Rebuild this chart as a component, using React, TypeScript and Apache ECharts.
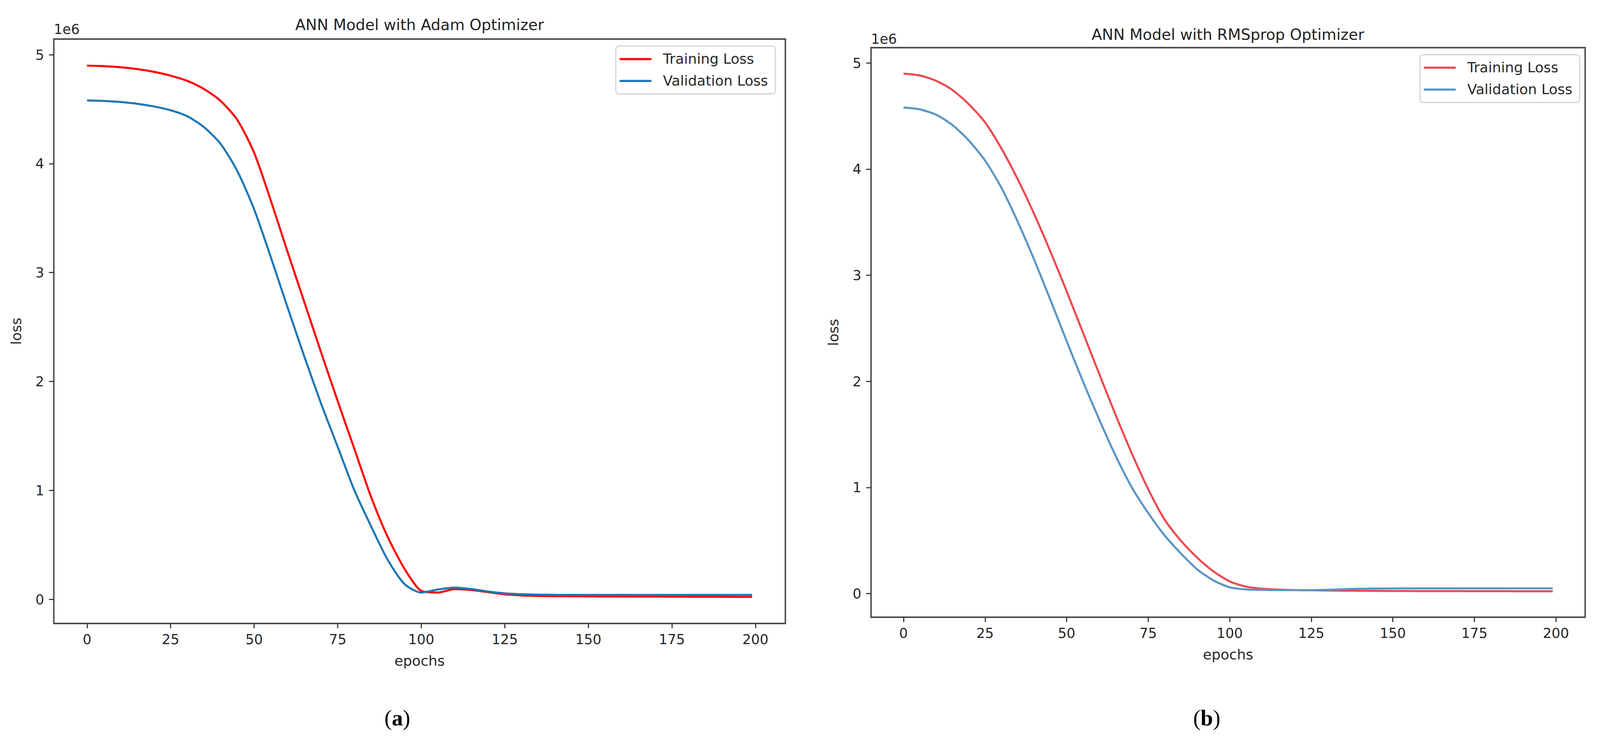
import React, { useEffect, useRef } from "react";
import * as echarts from "echarts";

const epochs = [0, 5, 10, 15, 20, 25, 30, 35, 40, 45, 50, 55, 60, 65, 70, 75, 80, 85, 90, 95, 100,
  105, 110, 115, 120, 125, 130, 135, 140, 145, 150, 155, 160, 165, 170, 175, 180, 185, 190, 195, 199];

const adamTraining = [4.9, 4.895, 4.885, 4.868, 4.843, 4.808, 4.76, 4.685, 4.575, 4.4, 4.1, 3.66, 3.19, 2.73, 2.27, 1.82, 1.38, 0.94, 0.57, 0.28, 0.078,
  0.062, 0.093, 0.085, 0.066, 0.046, 0.036, 0.031, 0.029, 0.028, 0.027, 0.026, 0.026, 0.025, 0.025, 0.024, 0.024, 0.023, 0.023, 0.022, 0.022];
const adamValidation = [4.58, 4.576, 4.566, 4.55, 4.525, 4.49, 4.435, 4.335, 4.18, 3.93, 3.58, 3.14, 2.68, 2.23, 1.8, 1.4, 1.0, 0.67, 0.36, 0.14, 0.062,
  0.09, 0.108, 0.094, 0.072, 0.055, 0.047, 0.043, 0.041, 0.04, 0.04, 0.04, 0.04, 0.04, 0.04, 0.04, 0.04, 0.04, 0.04, 0.04, 0.04];

const rmsTraining = [4.9, 4.882, 4.832, 4.745, 4.612, 4.44, 4.195, 3.905, 3.58, 3.225, 2.85, 2.46, 2.07, 1.685, 1.32, 0.985, 0.7, 0.5, 0.34, 0.21, 0.115,
  0.066, 0.046, 0.038, 0.034, 0.032, 0.03, 0.028, 0.027, 0.026, 0.025, 0.025, 0.024, 0.024, 0.024, 0.023, 0.023, 0.023, 0.022, 0.022, 0.022];
const rmsValidation = [4.58, 4.562, 4.512, 4.415, 4.27, 4.08, 3.825, 3.505, 3.15, 2.77, 2.38, 2.0, 1.64, 1.3, 1.0, 0.76, 0.55, 0.38, 0.23, 0.125, 0.06,
  0.04, 0.035, 0.033, 0.033, 0.033, 0.036, 0.042, 0.046, 0.048, 0.049, 0.05, 0.05, 0.05, 0.05, 0.05, 0.05, 0.05, 0.05, 0.05, 0.05];

const xTicks = [0, 25, 50, 75, 100, 125, 150, 175, 200];
const yTicks = [0, 1, 2, 3, 4, 5];

const titles = ["ANN Model with Adam Optimizer", "ANN Model with RMSprop Optimizer"];
const seriesNames = ["Training Loss", "Validation Loss"];
const panelLabels = ["a", "b"];

const FONT = "DejaVu Sans";
const TXT = "#262626";
const REF_W = 4313;
const REF_H = 1902;

function padRange(vals: number[]) {
  const mn = Math.min(...vals);
  const mx = Math.max(...vals);
  const p = (mx - mn) * 0.05;
  return [mn - p, mx + p];
}

export default function App() {
  const ref = useRef<HTMLDivElement>(null);

  useEffect(() => {
    if (!ref.current) return;
    const chart = echarts.init(ref.current, null, { renderer: "svg" });
    const W = chart.getWidth();
    const H = chart.getHeight();
    const sx = W / REF_W;
    const sy = H / REF_H;
    const sf = Math.min(sx, sy);
    const X = (v: number) => v * sx;
    const Y = (v: number) => v * sy;
    const F = (v: number) => v * sf;

    const [xMin, xMax] = padRange(epochs);
    const [yMinA, yMaxA] = padRange([...adamTraining, ...adamValidation]);
    const [yMinB, yMaxB] = padRange([...rmsTraining, ...rmsValidation]);

    const gridsRef = [
      { left: 145, top: 100, width: 1972, height: 1496 },
      { left: 2348, top: 122, width: 1925, height: 1458 },
    ];

    const colors = [
      ["#ff0000", "#1f77b4"],
      ["#ec4a50", "#5b95c4"],
    ];

    const tick = { show: true, length: F(13), lineStyle: { color: "#333", width: F(3) } };

    const makeX = (gi: number) => ({
      type: "value",
      gridIndex: gi,
      position: "bottom",
      min: xMin,
      max: xMax,
      axisLine: { show: false, onZero: false },
      splitLine: { show: false },
      axisTick: { ...tick, customValues: xTicks },
      axisLabel: { customValues: xTicks, fontSize: F(37), color: TXT, margin: F(24), fontFamily: FONT },
      name: "epochs",
      nameLocation: "middle",
      nameGap: F(82),
      nameTextStyle: { fontSize: F(38), color: TXT, fontFamily: FONT },
    });

    const makeY = (gi: number, mn: number, mx: number) => ({
      type: "value",
      gridIndex: gi,
      position: "left",
      min: mn,
      max: mx,
      axisLine: { show: false, onZero: false },
      splitLine: { show: false },
      axisTick: { ...tick, customValues: yTicks },
      axisLabel: { customValues: yTicks, fontSize: F(37), color: TXT, margin: F(26), fontFamily: FONT, formatter: (v: number) => String(Math.round(v)) },
      name: "loss",
      nameLocation: "middle",
      nameGap: F(82),
      nameTextStyle: { fontSize: F(38), color: TXT, fontFamily: FONT },
    });

    const mkSeries = (name: string, vals: number[], gi: number, color: string) => ({
      type: "line",
      name,
      xAxisIndex: gi,
      yAxisIndex: gi,
      data: epochs.map((e, i) => [e, vals[i]]),
      symbol: "none",
      showSymbol: false,
      smooth: 0.25,
      lineStyle: { width: F(5.5), color },
      itemStyle: { color },
    });

    const mkLegend = (gi: number, left: number, top: number) => ({
      show: true,
      left: X(left),
      top: Y(top),
      orient: "vertical",
      selectedMode: false,
      icon: "rect",
      itemWidth: F(86),
      itemHeight: F(6),
      itemGap: F(17),
      padding: [F(14), F(20), F(14), F(10)],
      borderColor: "#d3d3d3",
      borderWidth: F(3),
      borderRadius: F(8),
      backgroundColor: "rgba(255,255,255,0.85)",
      textStyle: { fontSize: F(38), color: TXT, fontFamily: FONT, lineHeight: F(42), padding: [0, 0, 0, F(26)] },
      data: seriesNames.map((n, k) => ({ name: n, itemStyle: { color: colors[gi][k] } })),
    });

    const option: any = {
      animation: false,
      backgroundColor: "#ffffff",
      grid: gridsRef.map((g) => ({
        left: X(g.left),
        top: Y(g.top),
        width: X(g.width),
        height: Y(g.height),
        show: true,
        borderColor: "#4d4d4d",
        borderWidth: F(4),
        backgroundColor: "transparent",
        containLabel: false,
      })),
      xAxis: [makeX(0), makeX(1)],
      yAxis: [makeY(0, yMinA, yMaxA), makeY(1, yMinB, yMaxB)],
      legend: [mkLegend(0, 1660, 118), mkLegend(1, 3828, 140)],
      series: [
        mkSeries(seriesNames[0], adamTraining, 0, colors[0][0]),
        mkSeries(seriesNames[1], adamValidation, 0, colors[0][1]),
        mkSeries(seriesNames[0], rmsTraining, 1, colors[1][0]),
        mkSeries(seriesNames[1], rmsValidation, 1, colors[1][1]),
      ],
      graphic: [
        { type: "text", x: X(1131), y: Y(63), style: { text: titles[0], fill: "#222", fontSize: F(41), fontFamily: FONT, align: "center", verticalAlign: "middle" } },
        { type: "text", x: X(3310), y: Y(88), style: { text: titles[1], fill: "#222", fontSize: F(41), fontFamily: FONT, align: "center", verticalAlign: "middle" } },
        { type: "text", x: X(145), y: Y(74), style: { text: "1e6", fill: TXT, fontSize: F(37), fontFamily: FONT, align: "left", verticalAlign: "middle" } },
        { type: "text", x: X(2348), y: Y(99), style: { text: "1e6", fill: TXT, fontSize: F(37), fontFamily: FONT, align: "left", verticalAlign: "middle" } },
        ...panelLabels.map((p, i) => ({
          type: "text",
          x: X(i === 0 ? 1071 : 3253),
          y: Y(1837),
          style: {
            text: `{p|(}{b|${p}}{p|)}`,
            align: "center",
            verticalAlign: "middle",
            rich: {
              p: { fontFamily: "Liberation Serif", fontSize: F(60), fill: "#000" },
              b: { fontFamily: "Liberation Serif", fontSize: F(60), fontWeight: "bold", fill: "#000" },
            },
          },
        })),
      ],
    };

    chart.setOption(option);
    return () => chart.dispose();
  }, []);

  return <div ref={ref} style={{ position: "fixed", left: 0, top: 0, width: "100vw", height: "100vh", background: "#fff" }} />;
}
